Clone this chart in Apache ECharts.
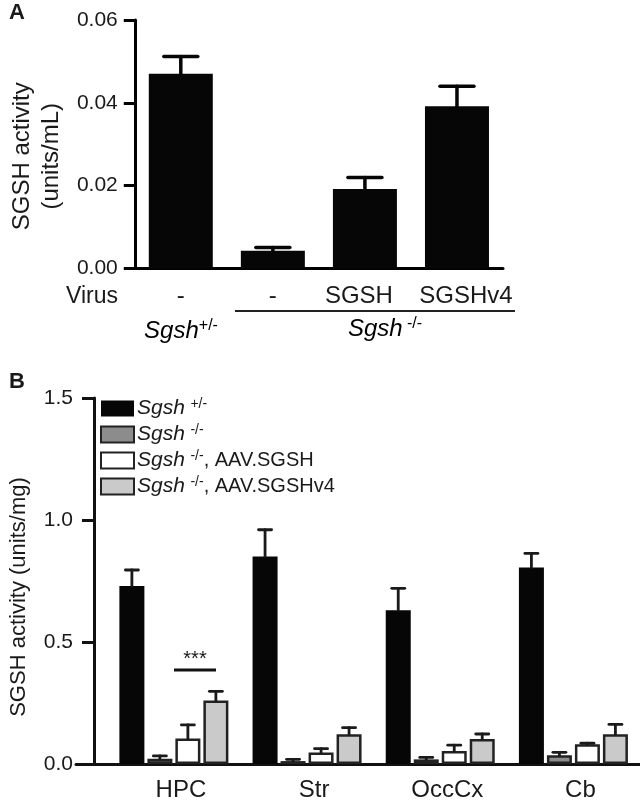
<!DOCTYPE html>
<html><head><meta charset="utf-8">
<script src="https://cdn.jsdelivr.net/npm/echarts@6/dist/echarts.min.js"></script>
<style>html,body{margin:0;padding:0;background:#fff}#c{width:640px;height:803px}</style>
</head><body><div id="c"></div>
<script>
// Panel A
const catsA = ['-', '-', 'SGSH', 'SGSHv4'];
const valsA = [0.047, 0.0043, 0.0192, 0.0392];
const errA = [0.0042, 0.0008, 0.0028, 0.0048];
const ticksA = [0, 0.02, 0.04, 0.06];
// Panel B
const catsB = ['HPC', 'Str', 'OccCx', 'Cb'];
const namesB = ['Sgsh +/-', 'Sgsh -/-', 'Sgsh -/-, AAV.SGSH', 'Sgsh -/-, AAV.SGSHv4'];
const hetB = [0.73, 0.85, 0.63, 0.805];
const hetErrB = [0.065, 0.11, 0.09, 0.058];
const koB = [0.022, 0.012, 0.019, 0.036];
const koErrB = [0.011, 0.007, 0.008, 0.012];
const sgshB = [0.105, 0.047, 0.053, 0.081];
const sgshErrB = [0.055, 0.016, 0.024, 0.004];
const v4B = [0.26, 0.122, 0.102, 0.122];
const v4ErrB = [0.038, 0.027, 0.021, 0.04];
const ticksB = [0, 0.5, 1.0, 1.5];

const INK = '#1a1a1a';
const FONT = 'Liberation Sans, Arial, sans-serif';
const chart = echarts.init(document.getElementById('c'), null, {renderer: 'canvas'});

function errSeries(xAxisIndex, yAxisIndex, vals, errs, offsetIdx, nSeries, pitch, capW, lw, color) {
  return {
    type: 'custom', xAxisIndex, yAxisIndex, z: 5, silent: true,
    data: vals.map((v, i) => [i, v, errs[i]]),
    renderItem(params, api) {
      const i = api.value(0), v = api.value(1), e = api.value(2);
      const p0 = api.coord([i, v]);
      const p1 = api.coord([i, v + e]);
      const dx = (offsetIdx - (nSeries - 1) / 2) * pitch;
      const x = p0[0] + dx;
      const st = {stroke: color, lineWidth: lw, lineCap: 'round'};
      return {type: 'group', children: [
        {type: 'line', shape: {x1: x, y1: p0[1], x2: x, y2: p1[1]}, style: st},
        {type: 'line', shape: {x1: x - capW / 2, y1: p1[1], x2: x + capW / 2, y2: p1[1]}, style: st}
      ]};
    }
  };
}

const richLegend = {
  i: {fontStyle: 'italic', fontSize: 21, fontFamily: FONT, color: INK, lineHeight: 18},
  sup: {fontSize: 14, fontFamily: FONT, color: INK, padding: [0, 0, 9, 0], lineHeight: 14},
  n: {fontSize: 20, fontFamily: FONT, color: INK, lineHeight: 18}
};
const richA = {
  i: {fontStyle: 'italic', fontSize: 24, fontFamily: FONT, color: INK, lineHeight: 24},
  sup: {fontSize: 16, fontFamily: FONT, color: INK, padding: [0, 0, 11, 0], lineHeight: 16}
};
const richXA = {
  l: {fontSize: 24, fontFamily: FONT, color: INK, padding: [0, 12, 0, 0]},
  r: {fontSize: 24, fontFamily: FONT, color: INK, padding: [0, 0, 0, 18]}
};
const legendText = {
  'Sgsh +/-': '{i|Sgsh} {sup|+/-}',
  'Sgsh -/-': '{i|Sgsh} {sup|-/-}',
  'Sgsh -/-, AAV.SGSH': '{i|Sgsh} {sup|-/-}{n|, AAV.SGSH}',
  'Sgsh -/-, AAV.SGSHv4': '{i|Sgsh} {sup|-/-}{n|, AAV.SGSHv4}'
};

const barStyles = [
  {color: '#060606', borderColor: '#060606', borderWidth: 0},
  {color: '#8c8c8c', borderColor: '#222', borderWidth: 2.5},
  {color: '#ffffff', borderColor: '#222', borderWidth: 2.5},
  {color: '#cacaca', borderColor: '#222', borderWidth: 2.5}
];
const dataB = [hetB, koB, sgshB, v4B];
const errB = [hetErrB, koErrB, sgshErrB, v4ErrB];

const option = {
  animation: false,
  backgroundColor: '#fff',
  textStyle: {fontFamily: FONT, color: INK},
  grid: [
    {left: 129.5, top: 20, width: 373.5, height: 248.5},
    {left: 101.3, top: 398, width: 549, height: 366},
    {left: 76, top: 398, width: 570, height: 366}
  ],
  xAxis: [
    {type: 'category', gridIndex: 0, data: catsA,
     axisLine: {lineStyle: {color: '#000', width: 3}}, axisTick: {show: false},
     axisLabel: {interval: 0, fontSize: 24, color: INK, margin: 16, fontFamily: FONT, rich: richXA,
       formatter: (v, i) => i === 2 ? '{l|' + v + '}' : (i === 3 ? '{r|' + v + '}' : v)}},
    {type: 'category', gridIndex: 1, data: catsB,
     axisLine: {show: false}, axisTick: {show: false},
     axisLabel: {interval: 0, fontSize: 24, color: INK, margin: 14, fontFamily: FONT, padding: [0, 0, 0, 14]}},
    {type: 'value', gridIndex: 2, min: 0, max: 1, axisLine: {show: true, onZero: false, lineStyle: {color: '#111', width: 3}},
     axisTick: {show: false}, axisLabel: {show: false}, splitLine: {show: false}}
  ],
  yAxis: [
    {type: 'value', gridIndex: 0, min: ticksA[0], max: ticksA[ticksA.length - 1], interval: 0.02,
     axisLine: {show: true, lineStyle: {color: '#000', width: 3}},
     axisTick: {show: true, length: 11, lineStyle: {width: 3, color: '#000'}},
     splitLine: {show: false},
     axisLabel: {fontSize: 21, color: INK, margin: 17, fontFamily: FONT, formatter: v => v.toFixed(2)},
     name: 'SGSH activity\n(units/mL)', nameLocation: 'middle', nameGap: 66,
     nameTextStyle: {fontSize: 24, color: INK, lineHeight: 29, fontFamily: FONT, padding: [0, 24, 0, 0]}},
    {type: 'value', gridIndex: 1, min: ticksB[0], max: ticksB[ticksB.length - 1], interval: 0.5, offset: 13.3,
     axisLine: {show: true, lineStyle: {color: '#111', width: 3}},
     axisTick: {show: true, length: 12, lineStyle: {width: 3, color: '#111'}},
     splitLine: {show: false},
     axisLabel: {fontSize: 21, color: INK, margin: 21, fontFamily: FONT, formatter: v => v.toFixed(1)},
     name: 'SGSH activity (units/mg)', nameLocation: 'middle', nameGap: 64,
     nameTextStyle: {fontSize: 22, color: INK, fontFamily: FONT, padding: [0, 32, 0, 0]}},
    {type: 'value', gridIndex: 2, min: 0, max: 1, show: false}
  ],
  legend: {
    data: namesB, orient: 'vertical', left: 95, top: 392, itemWidth: 33, itemHeight: 16, itemGap: 3,
    icon: 'rect', selectedMode: false,
    formatter: name => legendText[name],
    textStyle: {rich: richLegend, fontSize: 20, color: INK, padding: [0, 0, 0, -2]}
  },
  series: [
    {type: 'bar', xAxisIndex: 0, yAxisIndex: 0, data: valsA, barWidth: 64,
     itemStyle: {color: '#060606'}},
    errSeries(0, 0, valsA, errA, 0, 1, 0, 34, 3.5, '#060606'),
    ...namesB.map((n, k) => ({
      type: 'bar', name: n, xAxisIndex: 1, yAxisIndex: 1, data: dataB[k], barWidth: 25, barGap: '12%',
      itemStyle: barStyles[k]
    })),
    ...namesB.map((n, k) => errSeries(1, 1, dataB[k], errB[k], k, 4, 28, 13, 2.8, '#1a1a1a'))
  ],
  graphic: [
    {type: 'text', left: 9, top: 2, style: {text: 'A', fontSize: 22, fontWeight: 'bold', fontFamily: FONT, fill: INK}},
    {type: 'text', left: 9, top: 371, style: {text: 'B', fontSize: 22, fontWeight: 'bold', fontFamily: FONT, fill: INK}},
    {type: 'text', left: 66, top: 285, style: {text: 'Virus', fontSize: 23, fontFamily: FONT, fill: INK}},
    {type: 'text', x: 181, y: 331, style: {text: '{i|Sgsh}{sup|+/-}', rich: richA, align: 'center', verticalAlign: 'middle'}},
    {type: 'text', x: 385, y: 329, style: {text: '{i|Sgsh}{sup| -/-}', rich: richA, align: 'center', verticalAlign: 'middle'}},
    {type: 'line', shape: {x1: 235, y1: 311, x2: 515, y2: 311}, style: {stroke: '#222', lineWidth: 2.2}},
    {type: 'line', shape: {x1: 174, y1: 670, x2: 216, y2: 670}, style: {stroke: '#111', lineWidth: 3}},
    {type: 'text', x: 195, y: 659, style: {text: '***', fontSize: 20, fontFamily: FONT, fill: INK, align: 'center', verticalAlign: 'middle'}}
  ]
};
chart.setOption(option);
</script>
</body></html>
